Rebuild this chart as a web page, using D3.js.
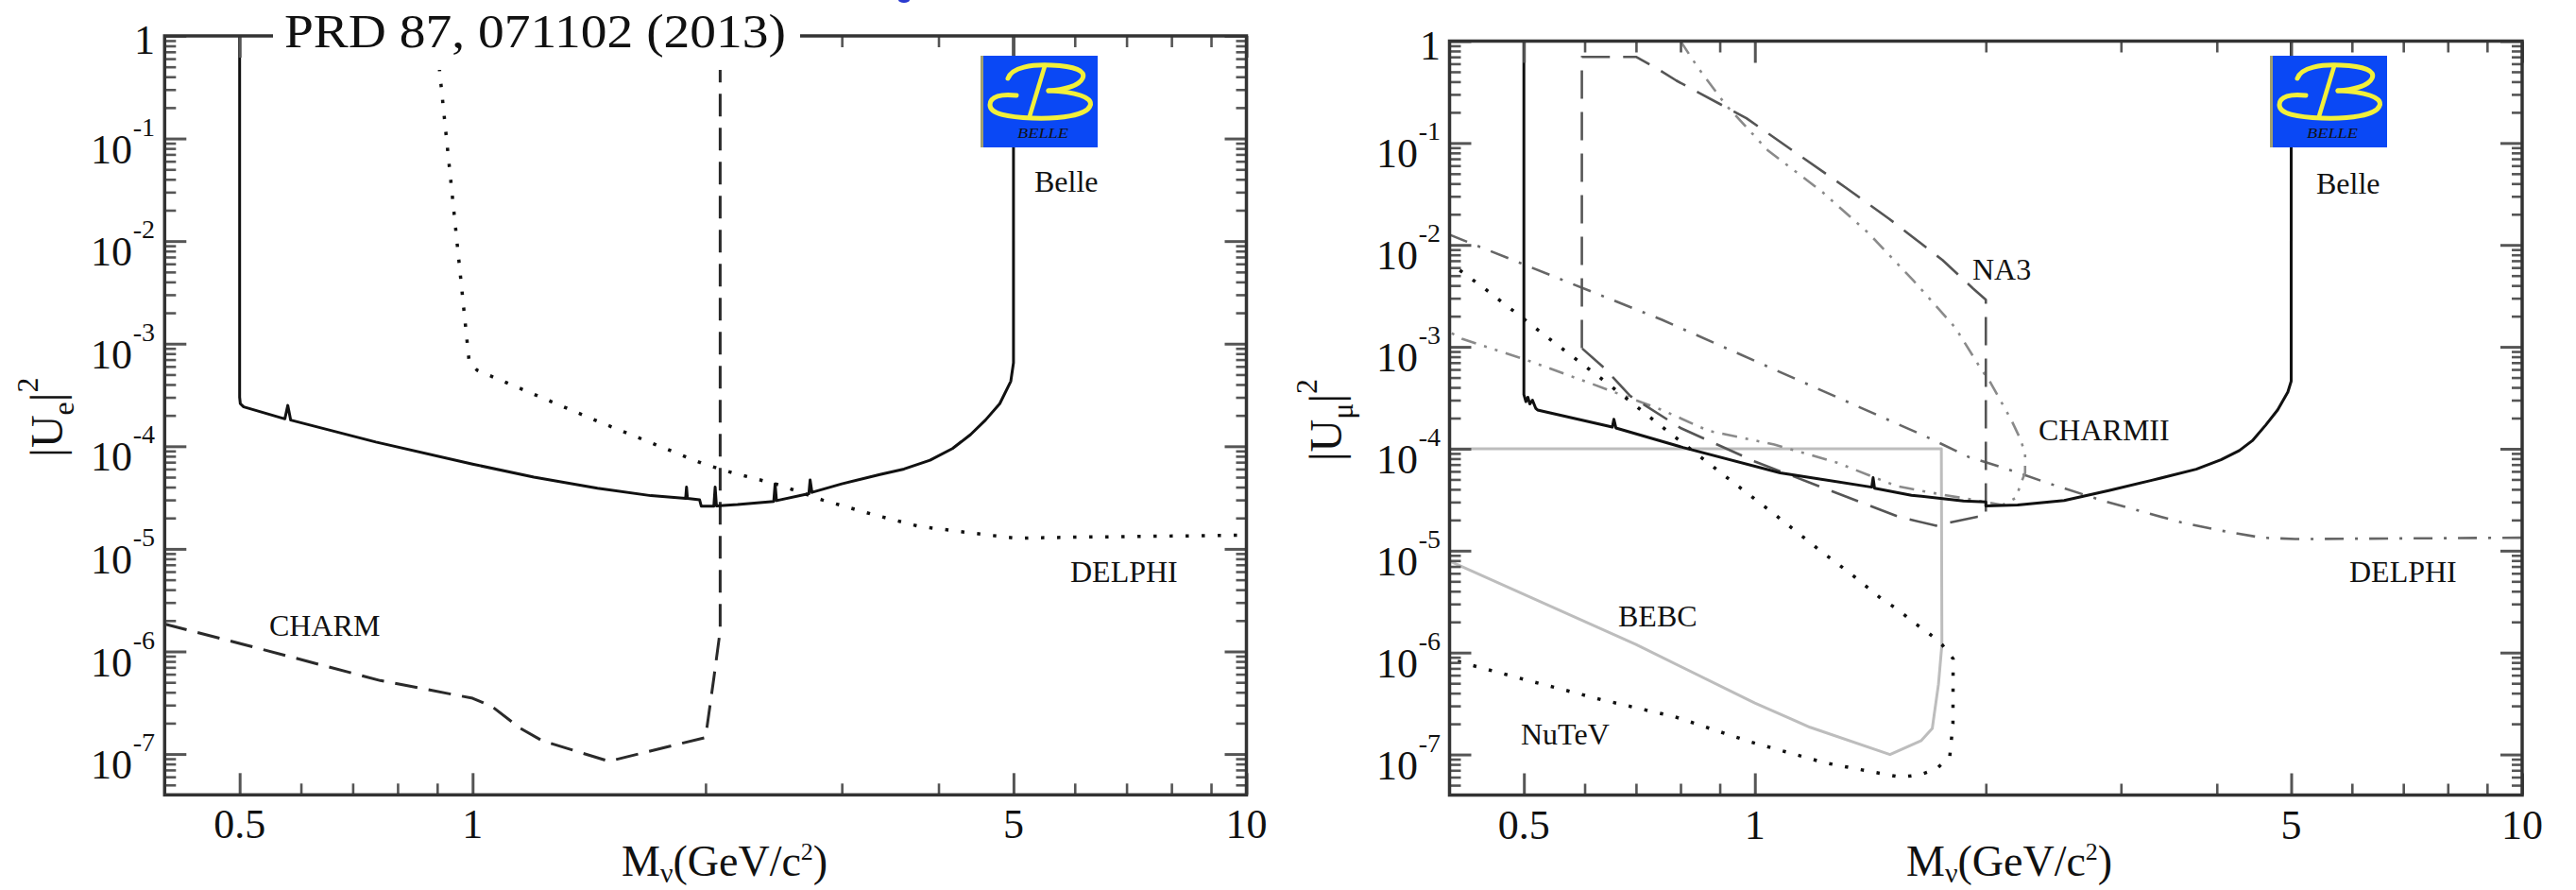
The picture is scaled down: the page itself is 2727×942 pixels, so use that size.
<!DOCTYPE html>
<html>
<head>
<meta charset="utf-8">
<script src="https://cdn.jsdelivr.net/npm/d3@7"></script>
<style>
  body { margin: 0; background: #fff; }
  svg { display: block; }
  text { font-family: "Liberation Serif", "DejaVu Serif", serif; fill: #111; }
</style>
</head>
<body>
<svg id="chart" width="2727" height="942"></svg>
<script>
// ---- mass axis (GeV/c^2) and mixing axis ----
const massDomain = [0.4, 10];
const mixDomain = [4e-8, 1];
const massTicks = [0.5, 0.6, 0.7, 0.8, 0.9, 1, 2, 3, 4, 5, 6, 7, 8, 9, 10];
const massLabels = [0.5, 1, 5, 10];
const mixDecades = [1e-7, 1e-6, 1e-5, 1e-4, 1e-3, 1e-2, 1e-1, 1];

// ---- |U_e|^2 panel ----
const belleE = [
  [0.5, 1], [0.5, 3.0e-4], [0.501, 2.6e-4], [0.506, 2.42e-4], [0.572, 1.85e-4],
  [0.577, 2.5e-4], [0.582, 1.8e-4], [0.75, 1.1e-4], [1.0, 6.7e-5], [1.2, 5.0e-5],
  [1.45, 3.9e-5], [1.7, 3.3e-5], [1.885, 3.1e-5], [1.89, 4.0e-5], [1.895, 3.1e-5],
  [1.965, 3.0e-5], [1.975, 2.6e-5], [2.05, 2.6e-5], [2.058, 4.0e-5], [2.066, 2.62e-5],
  [2.2, 2.7e-5], [2.45, 2.9e-5], [2.46, 4.3e-5], [2.47, 2.95e-5], [2.72, 3.45e-5],
  [2.73, 4.7e-5], [2.745, 3.55e-5], [3.0, 4.3e-5], [3.36, 5.3e-5], [3.61, 6.0e-5],
  [3.9, 7.3e-5], [4.17, 9.5e-5], [4.4, 1.3e-4], [4.6, 1.8e-4], [4.8, 2.6e-4],
  [4.96, 4.3e-4], [5.0, 6.5e-4], [5.0, 1]
];
const delphiE = [
  [0.897, 1], [0.99, 6.6e-4], [1.014, 5.5e-4], [1.447, 1.77e-4], [1.98, 6.8e-5],
  [2.17, 5.5e-5], [2.49, 4.2e-5], [2.83, 3.0e-5], [3.3, 2.15e-5], [3.77, 1.66e-5],
  [4.54, 1.39e-5], [5.03, 1.27e-5], [6.0, 1.3e-5], [10, 1.36e-5]
];
const charmE = [
  [0.4, 1.85e-6], [0.515, 1.13e-6], [0.76, 5.2e-7], [1.0, 3.5e-7], [1.06, 2.9e-7],
  [1.15, 1.8e-7], [1.23, 1.35e-7], [1.5, 8.5e-8], [2.0, 1.45e-7], [2.05, 5.5e-7],
  [2.089, 1.6e-6], [2.089, 1]
];

// ---- |U_mu|^2 panel ----
const belleMu = [
  [0.5, 1], [0.5, 3.4e-4], [0.503, 2.9e-4], [0.506, 3.2e-4], [0.509, 2.75e-4],
  [0.513, 3.0e-4], [0.518, 2.5e-4], [0.521, 2.4e-4], [0.652, 1.63e-4], [0.655, 1.95e-4],
  [0.659, 1.6e-4], [0.806, 1.03e-4], [1.079, 5.8e-5], [1.42, 4.2e-5], [1.426, 5.2e-5],
  [1.432, 4.1e-5], [1.6, 3.5e-5], [1.87, 3.07e-5], [2.0, 3.0e-5], [2.0, 2.75e-5],
  [2.2, 2.8e-5], [2.53, 3.1e-5], [2.9, 3.9e-5], [3.29, 4.9e-5], [3.76, 6.3e-5],
  [4.05, 7.8e-5], [4.28, 9.6e-5], [4.45, 1.2e-4], [4.63, 1.7e-4], [4.8, 2.4e-4],
  [4.95, 3.6e-4], [5.0, 4.6e-4], [5.0, 1]
];
const delphiMu = [
  [0.4, 1.26e-2], [0.757, 1.84e-3], [1.67, 1.32e-4], [1.9, 8.3e-5], [2.11, 6.5e-5],
  [2.41, 4.6e-5], [2.85, 3.07e-5], [3.59, 1.9e-5], [4.0, 1.6e-5], [4.58, 1.34e-5],
  [5.06, 1.3e-5], [10, 1.34e-5]
];
const na3Mu = [
  [0.595, 9.7e-4], [0.595, 0.70], [0.70, 0.70], [0.748, 0.53], [0.79, 0.41],
  [0.975, 0.175], [1.313, 0.0366], [1.497, 0.018], [1.756, 7.1e-3], [1.924, 3.75e-3],
  [2.0, 2.9e-3], [2.0, 2.15e-5], [1.95, 2.15e-5], [1.72, 1.76e-5], [1.54, 2.15e-5],
  [1.38, 2.95e-5], [1.0, 7.5e-5], [0.8, 1.6e-4], [0.688, 3.3e-4], [0.635, 6.3e-4],
  [0.595, 9.7e-4]
];
const charm2Mu = [
  [0.80, 1], [0.843, 0.55], [0.915, 0.24], [1.039, 0.085], [1.225, 0.033],
  [1.407, 0.013], [1.608, 4.5e-3], [1.825, 1.54e-3], [1.96, 6.5e-4], [2.03, 4.4e-4],
  [2.16, 1.9e-4], [2.22, 1.23e-4], [2.25, 8.9e-5], [2.25, 5.8e-5], [2.22, 4.5e-5],
  [2.19, 3.3e-5], [2.1, 2.8e-5], [1.95, 3.1e-5], [1.7, 3.7e-5], [1.53, 4.3e-5],
  [1.28, 7.3e-5], [1.06, 1.1e-4], [0.87, 1.5e-4], [0.757, 2.4e-4], [0.615, 4.3e-4],
  [0.51, 7.2e-4], [0.415, 1.2e-3], [0.4, 1.4e-3]
];
const nutevMu = [
  [0.41, 8.2e-7], [0.425, 7.6e-7], [0.503, 5.4e-7], [0.63, 3.46e-7], [0.787, 2.34e-7],
  [0.99, 1.32e-7], [1.233, 8.3e-8], [1.46, 6.5e-8], [1.548, 6.0e-8], [1.638, 6.3e-8],
  [1.724, 7.2e-8], [1.795, 9.6e-8], [1.812, 2.0e-7], [1.813, 8.7e-7], [1.753, 1.2e-6],
  [1.685, 1.55e-6], [1.61, 1.98e-6], [1.537, 2.63e-6], [1.46, 3.4e-6], [1.335, 5.9e-6],
  [1.217, 1.0e-5], [1.062, 2.26e-5], [0.925, 5.05e-5], [0.771, 1.47e-4], [0.641, 4.45e-4],
  [0.533, 1.29e-3], [0.444, 3.75e-3], [0.4, 6.7e-3]
];
const bebcMu = [
  [0.4, 1e-4], [1.75, 1e-4], [1.753, 1.2e-6], [1.735, 4.9e-7], [1.703, 1.8e-7],
  [1.648, 1.37e-7], [1.5, 1.0e-7], [1.18, 1.85e-7], [1.0, 3.2e-7], [0.7, 1.2e-6],
  [0.4, 7.9e-6]
];

// ---- layout ----
const panels = [
  { left: 174.3, right: 1319.5, top: 38, bottom: 841.3, labelEdge: 164,
    yTitleX: 66, xTitleX: 658, flavour: "e", belleLogo: [1038, 59] },
  { left: 1534.5, right: 2670, top: 43.5, bottom: 841.5, labelEdge: 1525,
    yTitleX: 1420, xTitleX: 2018, flavour: "\u03bc", belleLogo: [2403, 59] }
];

const svg = d3.select("#chart");
svg.append("rect").attr("width", 2727).attr("height", 942).attr("fill", "#fff");

function makeScales(p) {
  return {
    x: d3.scaleLog().domain(massDomain).range([p.left, p.right]),
    y: d3.scaleLog().domain(mixDomain).range([p.bottom, p.top])
  };
}

function mixMinor() {
  const out = [];
  for (let k = -8; k <= -1; k++) {
    for (let m = 2; m <= 9; m++) {
      const v = m * Math.pow(10, k);
      if (v > mixDomain[0] * 1.001 && v < mixDomain[1]) out.push(v);
    }
  }
  return out;
}

function drawFrame(p, s, idx) {
  const g = svg.append("g").attr("class", "frame");
  const minorX = massTicks.filter(v => !massLabels.includes(v));
  const majorX = massTicks.filter(v => massLabels.includes(v));
  const minorY = mixMinor();

  const defs = [
    [d3.axisBottom(s.x), `translate(0,${p.bottom})`, minorX, 12],
    [d3.axisBottom(s.x), `translate(0,${p.bottom})`, majorX, 23],
    [d3.axisTop(s.x), `translate(0,${p.top})`, minorX, 12],
    [d3.axisTop(s.x), `translate(0,${p.top})`, majorX, 23],
    [d3.axisLeft(s.y), `translate(${p.left},0)`, minorY, 12],
    [d3.axisLeft(s.y), `translate(${p.left},0)`, mixDecades, 23],
    [d3.axisRight(s.y), `translate(${p.right},0)`, minorY, 11],
    [d3.axisRight(s.y), `translate(${p.right},0)`, mixDecades, 23]
  ];
  defs.forEach(([ax, tr, vals, len]) => {
    const a = g.append("g").attr("transform", tr)
      .call(ax.tickValues(vals).tickSize(-len).tickFormat(""));
    a.select(".domain").remove();
    a.selectAll(".tick line").attr("stroke", "#555").attr("stroke-width", len > 20 ? 3 : 2.6);
  });

  // frame lines
  g.append("rect")
    .attr("x", p.left).attr("y", p.top)
    .attr("width", p.right - p.left).attr("height", p.bottom - p.top)
    .attr("fill", "none").attr("stroke", "#333").attr("stroke-width", 3.5);

  // mass tick labels
  g.selectAll("text.xl").data(massLabels).join("text")
    .attr("class", "xl")
    .attr("x", d => s.x(d)).attr("y", p.bottom + 46)
    .attr("text-anchor", "middle").attr("font-size", 44)
    .text(d => String(d));

  // mixing tick labels
  mixDecades.forEach(v => {
    const yy = s.y(v);
    const k = Math.round(Math.log10(v));
    if (k === 0) {
      g.append("text").attr("x", p.labelEdge).attr("y", yy + 19)
        .attr("text-anchor", "end").attr("font-size", 44).text("1");
    } else {
      g.append("text").attr("x", p.labelEdge - 24).attr("y", yy + 26)
        .attr("text-anchor", "end").attr("font-size", 44).text("10");
      g.append("text").attr("x", p.labelEdge).attr("y", yy - 3)
        .attr("text-anchor", "end").attr("font-size", 28).text(String(k));
    }
  });

  // axis titles
  const xt = g.append("text").attr("x", p.xTitleX).attr("y", 927).attr("font-size", 46);
  xt.append("tspan").text("M");
  xt.append("tspan").attr("dy", 7).attr("font-size", 30).text("\u03bd");
  xt.append("tspan").attr("dy", -7).text("(GeV/c");
  xt.append("tspan").attr("dy", -17).attr("font-size", 26).text("2");
  xt.append("tspan").attr("dy", 17).text(")");

  const yt = g.append("text")
    .attr("transform", `translate(${p.yTitleX},${(p.top + p.bottom) / 2 + 2}) rotate(-90)`)
    .attr("text-anchor", "middle").attr("font-size", 48);
  yt.append("tspan").text("|U");
  yt.append("tspan").attr("dy", 12).attr("font-size", 32).text(p.flavour);
  yt.append("tspan").attr("dy", -12).text("|");
  yt.append("tspan").attr("dy", -26).attr("font-size", 32).text("2");
}

function drawCurves(p, s, idx, series) {
  const clipId = "clip" + idx;
  svg.append("clipPath").attr("id", clipId).append("rect")
    .attr("x", p.left).attr("y", p.top)
    .attr("width", p.right - p.left).attr("height", p.bottom - p.top);
  const line = d3.line().x(d => s.x(d[0])).y(d => s.y(d[1]));
  const g = svg.append("g").attr("clip-path", `url(#${clipId})`);
  series.forEach(sr => {
    g.append("path").datum(sr.data)
      .attr("d", line)
      .attr("fill", "none")
      .attr("stroke", sr.color)
      .attr("stroke-width", sr.width)
      .attr("stroke-dasharray", sr.dash || null)
      .attr("stroke-linecap", sr.cap || "butt")
      .attr("stroke-linejoin", "round");
  });
}

function drawLogo(x0, y0) {
  const g = svg.append("g").attr("transform", `translate(${x0},${y0})`);
  g.append("rect").attr("width", 124).attr("height", 97).attr("fill", "#0a48f5");
  g.append("line").attr("x1", 1.5).attr("x2", 1.5).attr("y1", 0).attr("y2", 97)
    .attr("stroke", "#a0a070").attr("stroke-width", 3);
  const ys = "#f2f03a";
  g.append("path")
    .attr("d", "M29,24 C33,12 55,9 75,10 C100,11 112,16 108,24 C104,32 88,36 72,37")
    .attr("fill", "none").attr("stroke", ys).attr("stroke-width", 5).attr("stroke-linecap", "round");
  g.append("path")
    .attr("d", "M72,37 C100,38 120,44 116,53 C112,63 85,67 55,66 C30,65 10,62 10,52 C10,43 22,40 38,42")
    .attr("fill", "none").attr("stroke", ys).attr("stroke-width", 5).attr("stroke-linecap", "round");
  g.append("path").attr("d", "M68,11 L52,64")
    .attr("fill", "none").attr("stroke", ys).attr("stroke-width", 4.5).attr("stroke-linecap", "round");
  g.append("text").attr("x", 66).attr("y", 87).attr("text-anchor", "middle")
    .attr("font-size", 15).attr("font-style", "italic").attr("fill", "#9a9ab0")
    .attr("textLength", 54).attr("lengthAdjust", "spacingAndGlyphs").text("BELLE");
}

function label(x, y, txt) {
  svg.append("text").attr("x", x).attr("y", y).attr("font-size", 32).text(txt);
}

// ---- left panel ----
{
  const p = panels[0], s = makeScales(p);
  drawCurves(p, s, 0, [
    { data: charmE, color: "#2a2a2a", width: 3, dash: "24,12" },
    { data: delphiE, color: "#111", width: 3.5, dash: "3.5,13.5" },
    { data: belleE, color: "#111", width: 3 }
  ]);
  drawFrame(p, s, 0);
  drawLogo(p.belleLogo[0], p.belleLogo[1]);
  label(1095, 203, "Belle");
  label(1133, 616, "DELPHI");
  label(285, 673, "CHARM");
  // reference banner over the upper frame edge
  svg.append("rect").attr("x", 289).attr("y", 0).attr("width", 558).attr("height", 74).attr("fill", "#fff");
  svg.append("text").attr("x", 566.5).attr("y", 50).attr("text-anchor", "middle")
    .attr("font-size", 51).attr("textLength", 531).attr("lengthAdjust", "spacingAndGlyphs")
    .text("PRD 87, 071102 (2013)");
  svg.append("ellipse").attr("cx", 957).attr("cy", 0).attr("rx", 6).attr("ry", 3).attr("fill", "#2a3ad0");
}

// ---- right panel ----
{
  const p = panels[1], s = makeScales(p);
  drawCurves(p, s, 1, [
    { data: bebcMu, color: "#bdbdbd", width: 3 },
    { data: delphiMu, color: "#666", width: 2.6, dash: "20,12,3,12" },
    { data: charm2Mu, color: "#8a8a8a", width: 2.6, dash: "16,9,3,9,3,9" },
    { data: na3Mu, color: "#555", width: 2.6, dash: "30,14" },
    { data: nutevMu, color: "#111", width: 3.5, dash: "3.5,13.5" },
    { data: belleMu, color: "#111", width: 3 }
  ]);
  drawFrame(p, s, 1);
  drawLogo(p.belleLogo[0], p.belleLogo[1]);
  label(2452, 205, "Belle");
  label(2088, 296, "NA3");
  label(2158, 466, "CHARMII");
  label(2487, 616, "DELPHI");
  label(1713, 663, "BEBC");
  label(1610, 788, "NuTeV");
}
</script>
</body>
</html>
